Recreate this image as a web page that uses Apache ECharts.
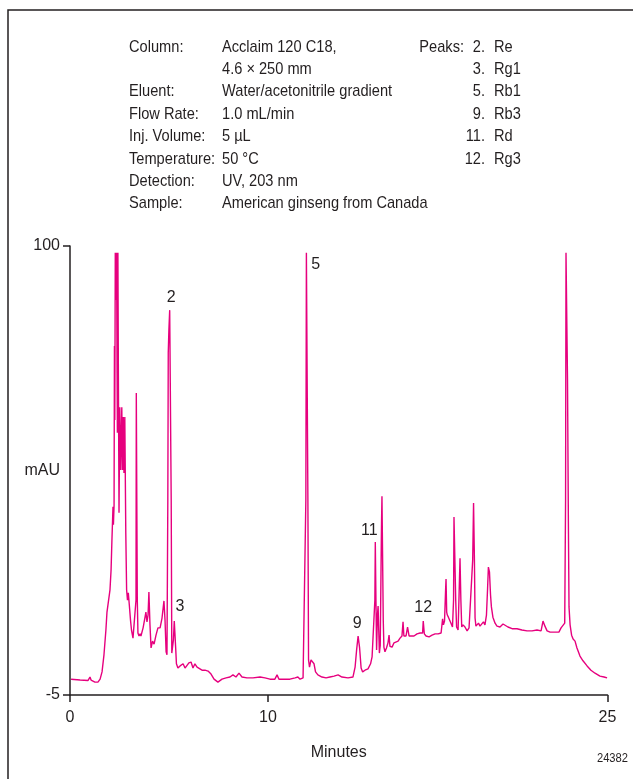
<!DOCTYPE html>
<html>
<head>
<meta charset="utf-8">
<script src="https://cdn.jsdelivr.net/npm/echarts@6/dist/echarts.min.js"></script>
<style>
  html, body { margin: 0; padding: 0; background: #fff; }
  #chart { width: 633px; height: 779px; }
</style>
</head>
<body>
<div id="chart"></div>
<script>
// Retention time (min) of each trace sample
const times = [
  0.05, 0.47, 0.84, 0.93, 0.98, 1.16, 1.30, 1.40, 1.49, 1.58, 1.67, 1.72, 1.86, 1.91, 1.95, 2.00, 2.02,
  2.05, 2.067, 2.084, 2.106, 2.14, 2.167, 2.19, 2.204, 2.228, 2.251, 2.28, 2.316, 2.358, 2.409, 2.442,
  2.479, 2.51, 2.549, 2.595, 2.633, 2.674, 2.712, 2.758, 2.814, 2.86, 2.93, 3.02, 3.07, 3.084, 3.107,
  3.13, 3.16, 3.21, 3.26, 3.30, 3.40, 3.49, 3.53, 3.58, 3.63, 3.67, 3.72, 3.77, 3.84, 3.91, 4.00, 4.09,
  4.19, 4.28, 4.37, 4.42, 4.47, 4.51, 4.55, 4.57, 4.60, 4.637, 4.674, 4.707, 4.735, 4.781, 4.81, 4.85,
  4.884, 4.92, 4.95, 5.02, 5.12, 5.21, 5.26, 5.35, 5.44, 5.53, 5.63, 5.72, 5.81, 5.91, 6.00, 6.14, 6.28,
  6.42, 6.56, 6.70, 6.88, 7.07, 7.26, 7.44, 7.58, 7.72, 7.86, 8.00, 8.23, 8.51, 8.84, 9.07, 9.30, 9.53,
  9.63, 9.72, 10.00, 10.23, 10.47, 10.60, 10.70, 10.84, 10.93, 10.97, 10.995, 11.035, 11.065, 11.095,
  11.14, 11.21, 11.28, 11.35, 11.42, 11.53, 11.72, 11.91, 12.09, 12.28, 12.47, 12.65, 12.93, 13.16,
  13.26, 13.33, 13.40, 13.47, 13.54, 13.61, 13.72, 13.86, 13.98, 14.05, 14.14, 14.18, 14.20, 14.23,
  14.26, 14.30, 14.33, 14.36, 14.39, 14.43, 14.48, 14.49, 14.51, 14.54, 14.57, 14.60, 14.65, 14.72,
  14.79, 14.84, 14.88, 14.98, 15.07, 15.16, 15.26, 15.35, 15.44, 15.49, 15.53, 15.63, 15.70, 15.77,
  15.86, 16.00, 16.14, 16.28, 16.40, 16.43, 16.48, 16.56, 16.70, 16.84, 16.98, 17.12, 17.26, 17.33,
  17.37, 17.42, 17.47, 17.49, 17.52, 17.55, 17.60, 17.67, 17.72, 17.79, 17.84, 17.86, 17.91, 17.94,
  17.98, 18.05, 18.09, 18.14, 18.18, 18.22, 18.28, 18.37, 18.47, 18.56, 18.65, 18.73, 18.77, 18.81,
  18.84, 18.88, 18.93, 19.00, 19.07, 19.16, 19.23, 19.30, 19.37, 19.42, 19.46, 19.51, 19.56, 19.60,
  19.67, 19.77, 19.86, 20.00, 20.14, 20.23, 20.37, 20.56, 20.79, 21.02, 21.26, 21.49, 21.72, 21.91,
  22.00, 22.09, 22.19, 22.33, 22.56, 22.74, 22.84, 22.93, 23.01, 23.05, 23.07, 23.12, 23.14, 23.18,
  23.21, 23.26, 23.33, 23.40, 23.49, 23.58, 23.72, 23.86, 24.05, 24.23, 24.42, 24.65, 24.84, 24.98
];

// Detector response (mAU) at each retention time
const absorbance = [
  -1.3, -1.5, -1.6, -0.8, -1.5, -2.0, -2.0, -1.3, 0.4, 4.4, 10.2, 14.4, 19.6, 24.2, 31.2, 39.0, 34.8,
  39.4, 76.6, 59.3, 98.4, 87.4, 98.4, 70.3, 56.3, 98.4, 69.4, 37.6, 62.3, 47.6, 62.3, 47.6,
  60.0, 46.9, 60.0, 32.9, 19.6, 17.2, 18.9, 16.1, 12.5, 10.2, 8.3, 8.6, 17.2, 65.6, 65.6,
  17.2, 9.5, 8.8, 9.3, 8.8, 10.7, 13.2, 14.4, 12.1, 13.7, 19.1, 11.4, 6.0, 7.6, 6.9, 9.0, 10.7,
  10.7, 13.0, 17.0, 12.5, 5.1, 4.4, 40.6, 75.0, 80.4, 85.0, 85.0, 40.6, 4.8, 4.8, 7.9, 12.3,
  12.3, 5.5, 2.3, 1.3, 1.8, 1.5, 2.3, 1.3, 1.5, 2.5, 2.7, 1.3, 2.3, 1.5, 1.3, 0.8, 0.8,
  0.6, -0.1, -1.3, -2.0, -1.3, -1.0, -0.8, -0.3, -0.8, 0.1, -0.8, -1.0, -1.0, -0.8, -1.0, -1.3, -1.3,
  -0.3, -1.3, -1.3, -1.3, -1.0, -0.8, -1.3, -1.0, -0.6, 40.6, 98.4, 98.4, 40.6, 3.2,
  1.5, 3.2, 3.4, 2.3, 0.4, -0.3, -0.8, -1.0, -0.8, -0.6, -0.3, -0.8, -1.0, -0.8,
  1.5, 5.5, 8.8, 6.0, 1.3, 0.4, 0.8, 1.1, 2.3, 3.9, 4.1, 17.2, 30.8, 17.2,
  5.5, 13.7, 15.8, 10.2, 4.8, 6.6, 31.2, 35.2, 41.5, 41.5, 12.5, 6.2, 5.1, 6.0,
  7.2, 9.0, 6.4, 6.2, 7.2, 6.9, 7.6, 8.3, 8.8, 12.1, 8.8, 8.8, 10.9, 8.8,
  9.0, 8.8, 9.3, 9.5, 9.5, 12.3, 9.3, 8.8, 8.6, 9.0, 9.3, 9.3, 9.5, 12.8,
  11.4, 12.3, 19.6, 22.1, 14.4, 13.7, 13.2, 13.0, 11.8, 10.9, 17.2, 36.6, 36.6, 17.2,
  10.9, 10.2, 17.2, 27.0, 17.2, 10.9, 11.4, 10.9, 10.0, 10.7, 10.9, 26.6, 39.9, 26.6,
  13.0, 11.1, 10.7, 11.8, 11.1, 10.9, 12.1, 11.4, 13.7, 19.6, 24.9, 23.8, 18.4, 15.6,
  13.2, 11.8, 11.1, 10.9, 11.6, 11.4, 10.9, 10.5, 10.5, 10.2, 10.0, 10.0, 10.2, 10.0,
  12.3, 11.1, 10.0, 9.7, 9.7, 9.7, 10.7, 10.7, 11.8, 40.6, 98.4, 98.4, 68.7, 35.9,
  15.6, 11.4, 9.0, 8.1, 7.6, 6.0, 4.1, 3.0, 1.8, 0.8, 0.1, -0.6, -0.8, -1.0
];

// Identified peaks: label, apex time, apex response
const peakNames = ['2', '3', '5', '9', '11', '12'];
const peakTimes = [4.655, 4.884, 11.015, 13.40, 14.20, 16.43];
const peakHeights = [85.0, 12.3, 98.4, 8.8, 30.8, 12.3];

// Axis ticks
const xTickValues = [0, 9.21, 25];
const xTickLabels = ['0', '10', '25'];
const yTickValues = [-5, 100];

// Method conditions block
const conditionKeys = ['Column:', '', 'Eluent:', 'Flow Rate:', 'Inj. Volume:', 'Temperature:', 'Detection:', 'Sample:'];
const conditionValues = ['Acclaim 120 C18,', '4.6 × 250 mm', 'Water/acetonitrile gradient', '1.0 mL/min',
  '5 µL', '50 °C', 'UV, 203 nm', 'American ginseng from Canada'];
const peakListNums = ['2.', '3.', '5.', '9.', '11.', '12.'];
const peakListNames = ['Re', 'Rg1', 'Rb1', 'Rb3', 'Rd', 'Rg3'];

const FONT = '"Liberation Sans", Arial, sans-serif';
const INK = '#231f20';
const TRACE = '#e6007e';
// condensed look for the annotation block
const NARROW = 0.86;
const BLOCK_FONT = '17px ' + FONT;

const chart = echarts.init(document.getElementById('chart'), null, { renderer: 'canvas' });

const traceData = times.map((t, i) => [t, absorbance[i]]);
const peakData = peakTimes.map((t, i) => ({ value: [t, peakHeights[i]], name: peakNames[i] }));
const peakOffsets = [[1, -13], [5, -14], [9, 12], [-1, -12], [-6, -11], [0, -13]];

function blockText(x, y, text, align, font) {
  return {
    type: 'text', x: x, y: y, scaleX: NARROW, silent: true,
    style: { text: text, font: font || BLOCK_FONT, fill: INK, textAlign: align || 'left', textVerticalAlign: 'middle' }
  };
}

const graphics = [
  { type: 'rect', shape: { x: 8, y: 10, width: 700, height: 800 },
    style: { fill: 'none', stroke: INK, lineWidth: 1.5 }, silent: true }
];
const lineStep = 22.4;
const textTop = 47;
conditionKeys.forEach((k, i) => graphics.push(blockText(129, textTop + i * lineStep, k)));
conditionValues.forEach((v, i) => graphics.push(blockText(222, textTop + i * lineStep, v)));
graphics.push(blockText(464, textTop, 'Peaks:', 'right'));
peakListNums.forEach((n, i) => {
  graphics.push(blockText(485, textTop + i * lineStep, n, 'right'));
  graphics.push(blockText(494, textTop + i * lineStep, peakListNames[i]));
});
graphics.push(blockText(628, 758, '24382', 'right', '13px ' + FONT));

chart.setOption({
  animation: false,
  backgroundColor: '#fff',
  grid: { left: 70, right: 25.5, top: 246, bottom: 84, outerBoundsMode: 'none', containLabel: false },
  xAxis: {
    type: 'value', min: 0, max: 25,
    name: 'Minutes', nameLocation: 'middle', nameGap: 50,
    nameTextStyle: { fontFamily: FONT, fontSize: 16, color: INK },
    axisLine: { show: true, onZero: false, lineStyle: { color: INK, width: 1.5 } },
    axisTick: { show: true, length: 7, inside: false, customValues: xTickValues, lineStyle: { color: INK, width: 1.5 } },
    axisLabel: { customValues: xTickValues, margin: 15, fontFamily: FONT, fontSize: 16, color: INK,
      formatter: v => xTickLabels[xTickValues.indexOf(v)] ?? '' },
    splitLine: { show: false }
  },
  yAxis: {
    type: 'value', min: -5, max: 100,
    name: 'mAU', nameLocation: 'middle', nameRotate: 0, nameGap: 10, nameMoveOverlap: false,
    nameTextStyle: { fontFamily: FONT, fontSize: 16, color: INK },
    axisLine: { show: true, onZero: false, lineStyle: { color: INK, width: 1.5 } },
    axisTick: { show: true, length: 7, customValues: yTickValues, lineStyle: { color: INK, width: 1.5 } },
    axisLabel: { customValues: yTickValues, margin: 10, fontFamily: FONT, fontSize: 16, color: INK },
    splitLine: { show: false }
  },
  series: [
    {
      type: 'line', data: traceData, showSymbol: false, symbol: 'none',
      lineStyle: { color: TRACE, width: 1.4 }, z: 3, silent: true
    },
    {
      type: 'scatter', data: peakData, symbolSize: 0, silent: true, z: 4,
      itemStyle: { opacity: 1 },
      label: {
        show: true, formatter: p => p.name, position: 'inside',
        fontFamily: FONT, fontSize: 16, color: INK, opacity: 1
      },
      labelLayout: p => ({ dx: peakOffsets[p.dataIndex][0], dy: peakOffsets[p.dataIndex][1] })
    }
  ],
  graphic: graphics
});
</script>
</body>
</html>
